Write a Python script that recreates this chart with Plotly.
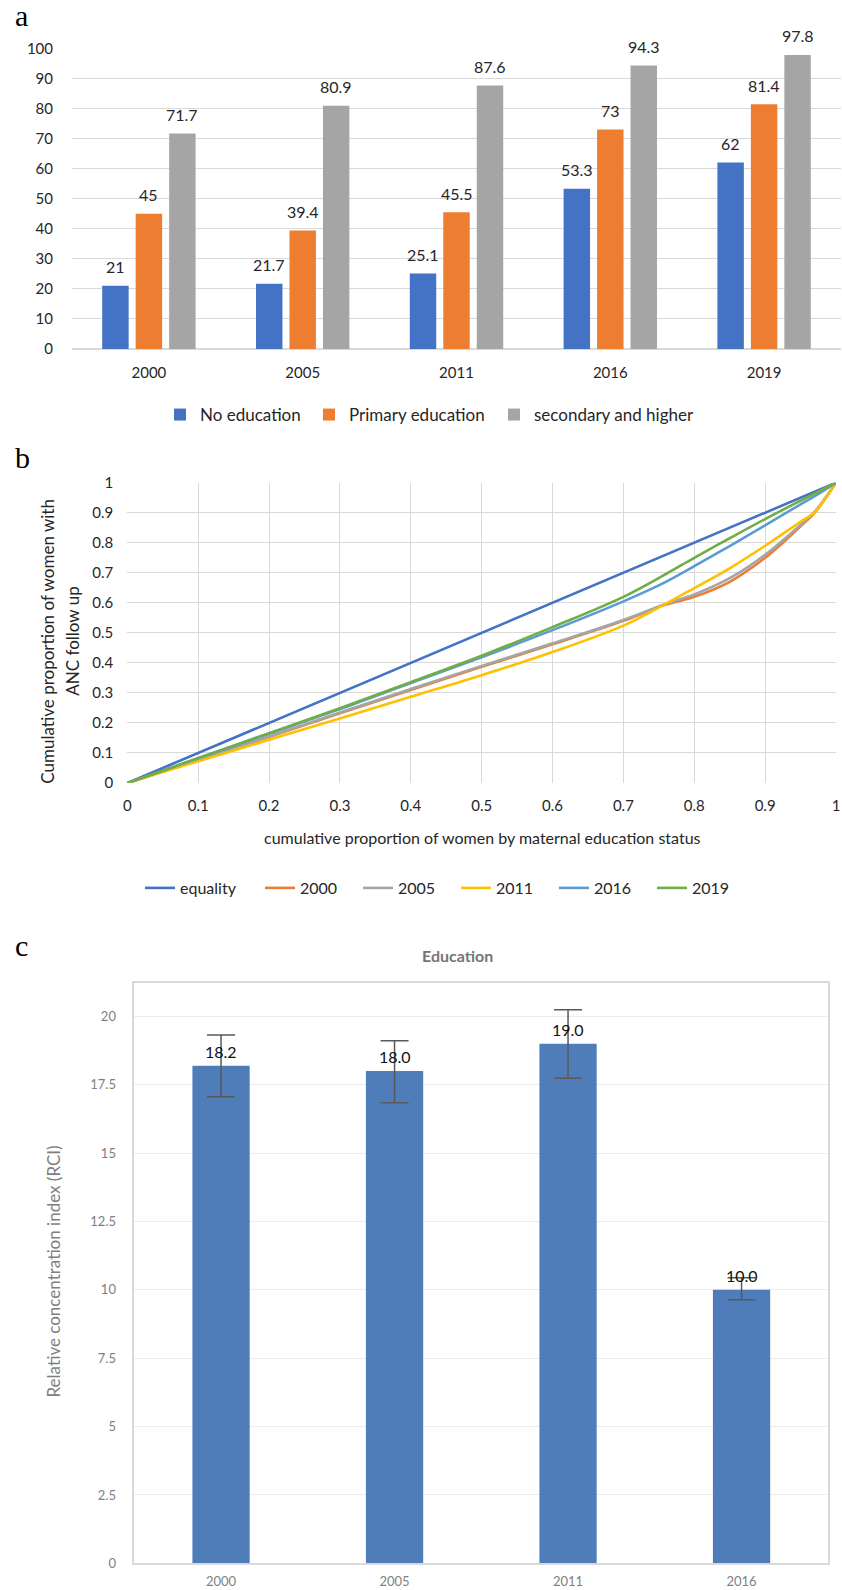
import plotly.graph_objects as go

W, H = 842, 1590

# ---------------- data ----------------
years_a = ["2000", "2005", "2011", "2016", "2019"]
no_education = [21, 21.7, 25.1, 53.3, 62]
primary_education = [45, 39.4, 45.5, 73, 81.4]
secondary_higher = [71.7, 80.9, 87.6, 94.3, 97.8]
series_a_names = ["No education", "Primary education", "secondary and higher"]

lorenz_x = [0, 0.1, 0.2, 0.3, 0.4, 0.5, 0.6, 0.7, 0.76, 0.8, 0.85, 0.9, 0.95, 0.97, 1.0]
equality_x = [0, 1]
equality_y = [0, 1]
lorenz_2000 = [0, 0.076, 0.153, 0.232, 0.310, 0.387, 0.462, 0.540, 0.594, 0.620, 0.670, 0.750, 0.855, 0.900, 1.0]
lorenz_2005 = [0, 0.077, 0.155, 0.235, 0.313, 0.390, 0.465, 0.543, 0.597, 0.628, 0.682, 0.760, 0.860, 0.904, 1.0]
lorenz_2011 = [0, 0.072, 0.144, 0.215, 0.287, 0.359, 0.436, 0.524, 0.597, 0.649, 0.715, 0.790, 0.870, 0.902, 1.0]
lorenz_2016 = [0, 0.082, 0.164, 0.246, 0.333, 0.419, 0.509, 0.605, 0.670, 0.722, 0.789, 0.858, 0.928, 0.955, 1.0]
lorenz_2019 = [0, 0.083, 0.166, 0.249, 0.336, 0.424, 0.519, 0.620, 0.696, 0.750, 0.815, 0.879, 0.940, 0.964, 1.0]
lorenz_names = ["equality", "2000", "2005", "2011", "2016", "2019"]

years_c = ["2000", "2005", "2011", "2016"]
rci = [18.2, 18.0, 19.0, 10.0]
rci_err_plus = [1.12, 1.11, 1.24, 0.44]
rci_err_minus = [1.14, 1.16, 1.26, 0.36]

# ---------------- helpers (layout positions in px) ----------------
def px(x):
    return x / W

def py(y):
    return 1 - y / H

FONT = "Lato, 'Open Sans', Arial, sans-serif"
SERIF = "'Liberation Serif', 'Times New Roman', serif"
TXT = "#262626"

fig = go.Figure()

# ---------------- panel a ----------------
colors_a = ["#4472c4", "#ed7d31", "#a5a5a5"]
vals_a = [no_education, primary_education, secondary_higher]
for i, (name, vals, col) in enumerate(zip(series_a_names, vals_a, colors_a)):
    fig.add_trace(go.Bar(x=years_a, y=vals, name=name, marker_color=col,
                         marker_line_width=0, xaxis="x", yaxis="y",
                         legend="legend" if i == 0 else f"legend{i + 1}"))

annotations = []
shifts = [-33.5, 0, 33.5]
for vals, sh in zip(vals_a, shifts):
    for k, v in enumerate(vals):
        annotations.append(dict(x=k, y=v, xref="x", yref="y", text=f"{v:g}",
                                showarrow=False, xshift=sh, yshift=19,
                                yanchor="middle", font=dict(family=FONT, size=16, color=TXT)))

# ---------------- panel b ----------------
colors_b = ["#4472c4", "#ed7d31", "#a5a5a5", "#ffc000", "#5b9bd5", "#70ad47"]
ys_b = [equality_y, lorenz_2000, lorenz_2005, lorenz_2011, lorenz_2016, lorenz_2019]
for j, (name, ys, col) in enumerate(zip(lorenz_names, ys_b, colors_b)):
    xs = equality_x if j == 0 else lorenz_x
    fig.add_trace(go.Scatter(x=xs, y=ys, name=name, mode="lines",
                             line=dict(color=col, width=2.6, shape="spline", smoothing=1.0),
                             xaxis="x2", yaxis="y2", legend=f"legend{j + 4}"))

# ---------------- panel c ----------------
fig.add_trace(go.Bar(x=years_c, y=rci, marker_color="#4f7dba", marker_line_width=0,
                     width=0.33, showlegend=False, xaxis="x3", yaxis="y3",
                     error_y=dict(type="data", symmetric=False, array=rci_err_plus,
                                  arrayminus=rci_err_minus, color="#595959",
                                  thickness=1.5, width=14)))
for k, v in enumerate(rci):
    annotations.append(dict(x=k, y=v, xref="x3", yref="y3", text=f"{v:.1f}",
                            showarrow=False, yshift=14.5, yanchor="middle",
                            font=dict(family=FONT, size=16, color="#111111")))

# panel letters & titles
annotations += [
    dict(x=px(13), y=py(15.5), xref="paper", yref="paper", text="a", showarrow=False,
         xanchor="left", yanchor="middle", font=dict(family=SERIF, size=30, color="black")),
    dict(x=px(13), y=py(457.5), xref="paper", yref="paper", text="b", showarrow=False,
         xanchor="left", yanchor="middle", font=dict(family=SERIF, size=30, color="black")),
    dict(x=px(13), y=py(945.5), xref="paper", yref="paper", text="c", showarrow=False,
         xanchor="left", yanchor="middle", font=dict(family=SERIF, size=30, color="black")),
    dict(x=px(482), y=py(837), xref="paper", yref="paper",
         text="cumulative proportion of women by maternal education status",
         showarrow=False, xanchor="center", yanchor="middle",
         font=dict(family=FONT, size=16, color=TXT)),
    dict(x=px(46.7), y=py(641), xref="paper", yref="paper",
         text="Cumulative proportion of women with",
         showarrow=False, textangle=-90, xanchor="center", yanchor="middle",
         font=dict(family=FONT, size=17, color=TXT)),
    dict(x=px(71.7), y=py(641), xref="paper", yref="paper",
         text="ANC follow up",
         showarrow=False, textangle=-90, xanchor="center", yanchor="middle",
         font=dict(family=FONT, size=17, color=TXT)),
    dict(x=px(457.5), y=py(955), xref="paper", yref="paper", text="<b>Education</b>",
         showarrow=False, xanchor="center", yanchor="middle",
         font=dict(family=FONT, size=16, color="#757575")),
    dict(x=px(52.5), y=py(1272), xref="paper", yref="paper",
         text="Relative concentration index (RCI)", showarrow=False, textangle=-90,
         xanchor="center", yanchor="middle", font=dict(family=FONT, size=17, color="#7f7f7f")),
]

# ---------------- legends ----------------
legends = {}
a_leg_x = [160, 309, 494]
for i, lx in enumerate(a_leg_x):
    key = "legend" if i == 0 else f"legend{i + 1}"
    legends[key] = dict(orientation="h", xanchor="left", yanchor="middle",
                        bgcolor="rgba(0,0,0,0)", borderwidth=0, x=px(lx), y=py(415),
                        font=dict(family=FONT, size=17, color=TXT))
b_leg_x = [140, 260, 358, 456, 554, 652]
for j, lx in enumerate(b_leg_x):
    legends[f"legend{j + 4}"] = dict(orientation="h", xanchor="left", yanchor="middle",
                                     bgcolor="rgba(0,0,0,0)", borderwidth=0,
                                     x=px(lx), y=py(888),
                                     font=dict(family=FONT, size=16, color=TXT))

grid_a = "#d9d9d9"
fig.update_layout(
    width=W, height=H, margin=dict(l=0, r=0, t=0, b=0, autoexpand=False),
    paper_bgcolor="white", plot_bgcolor="white",
    font=dict(family=FONT, color=TXT),
    barmode="group", bargap=0.347, bargroupgap=0.21,
    annotations=annotations,
    xaxis=dict(domain=[px(72), px(841)], type="category", range=[-0.5, 4.5],
               showgrid=False, ticks="", automargin=False,
               showline=False, tickfont=dict(size=15, color=TXT), ticklabelstandoff=13,
               anchor="y"),
    yaxis=dict(domain=[py(349), py(48.3)], range=[0, 100], dtick=10, gridcolor=grid_a,
               gridwidth=1.2, zeroline=True, zerolinecolor=grid_a, zerolinewidth=1.5,
               tickfont=dict(size=15, color=TXT), ticklabelstandoff=18, anchor="x",
               showline=False, automargin=False),
    xaxis2=dict(domain=[px(127.3), px(836)], range=[0, 1.00001], tick0=0, dtick=0.1,
                gridcolor=grid_a, gridwidth=1.2, zeroline=False, showline=False, ticks="",
                tickfont=dict(size=15, color=TXT), ticklabelstandoff=12, anchor="y2",
                automargin=False),
    yaxis2=dict(domain=[py(783), py(482.7)], range=[0, 1.00001], tick0=0, dtick=0.1,
                gridcolor=grid_a, gridwidth=1.2, zeroline=False, showline=False, ticks="",
                tickfont=dict(size=15, color=TXT), ticklabelstandoff=13, anchor="x2",
                automargin=False),
    xaxis3=dict(domain=[px(134.3), px(828.3)], type="category", range=[-0.5, 3.5],
                showgrid=False, ticks="", automargin=False,
                showline=True, linecolor="#d9d9d9", linewidth=1.5, mirror=True,
                tickfont=dict(size=13, color="#7f7f7f"), ticklabelstandoff=5, anchor="y3"),
    yaxis3=dict(domain=[py(1563.3), py(982.5)], range=[0, 21.24], dtick=2.5,
                gridcolor="#ececec", gridwidth=1, zeroline=False, showline=True,
                linecolor="#d9d9d9", linewidth=1.5, mirror=True, ticks="",
                tickfont=dict(size=13, color="#7f7f7f"), ticklabelstandoff=14, anchor="x3",
                automargin=False),
    **legends,
)

fig.write_html("out.html", config={"displayModeBar": False},
               post_script="document.body.style.margin='0';document.body.style.overflow='hidden';")
